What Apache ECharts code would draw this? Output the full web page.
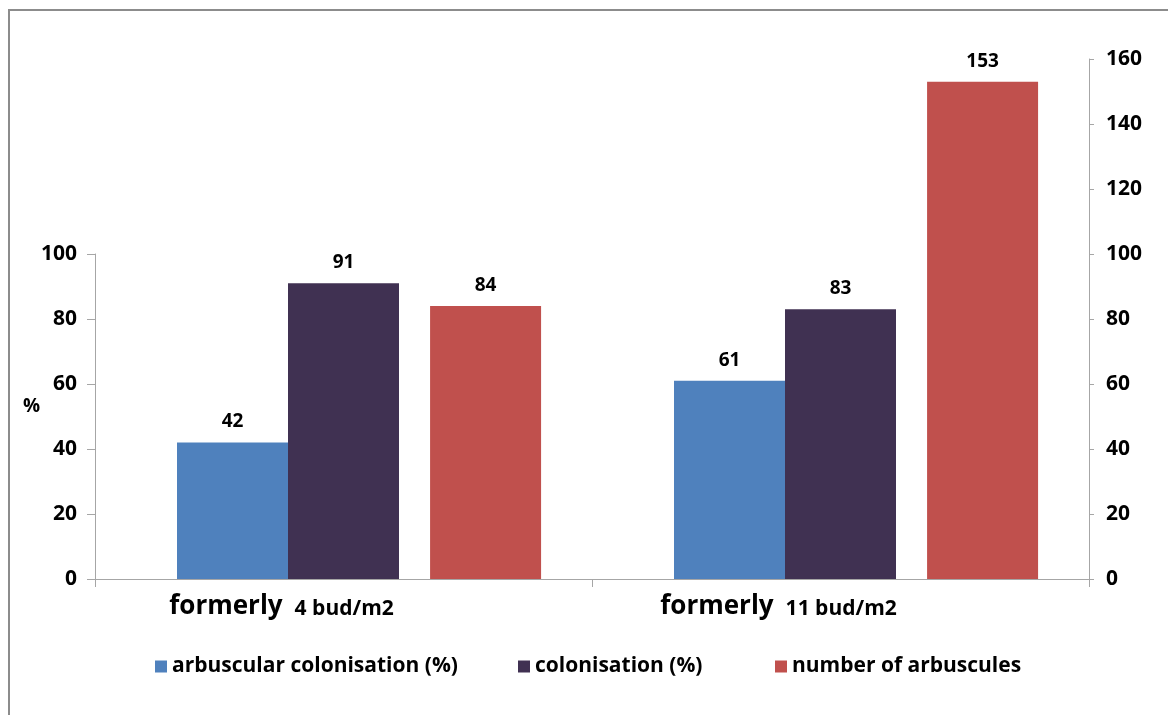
<!DOCTYPE html>
<html>
<head>
<meta charset="utf-8">
<script src="https://cdn.jsdelivr.net/npm/echarts@6/dist/echarts.min.js"></script>
<style>
html,body{margin:0;padding:0;background:#fff;}
#chart{width:1168px;height:715px;}
</style>
</head>
<body>
<div id="chart"></div>
<script>
const categories = ['formerly|4 bud/m2', 'formerly|11 bud/m2'];
const arbuscularColonisation = [42, 61];
const colonisation = [91, 83];
const numberOfArbuscules = [84, 153];
const emptySlot = [null, null];
const leftTicks = { min: 0, max: 100, interval: 20 };
const rightTicks = { min: 0, max: 160, interval: 20 };
const seriesNames = ['arbuscular colonisation (%)', 'colonisation (%)', 'number of arbuscules'];

const FONT = 'Open Sans';
const axisGray = '#a6a6a6';
const labelStyle = { fontFamily: FONT, fontWeight: 'bold', fontSize: 19, color: '#000' };

const chart = echarts.init(document.getElementById('chart'), null, { renderer: 'canvas' });

const legendCommon = {
  top: 651, itemWidth: 12, itemHeight: 12, itemGap: 0, itemTextGap: 7,
  icon: 'rect',
  textStyle: { fontFamily: FONT, fontWeight: 'bold', fontSize: 21, color: '#000' },
  selectedMode: false
};

chart.setOption({
  animation: false,
  backgroundColor: '#fff',
  graphic: [{
    type: 'polyline',
    shape: { points: [[9, 715], [9, 10], [1168, 10]] },
    style: { stroke: '#8c8c8c', lineWidth: 2, fill: null },
    silent: true
  }],
  legend: [
    Object.assign({ left: 150, data: [seriesNames[0]] }, legendCommon),
    Object.assign({ left: 513, data: [seriesNames[1]] }, legendCommon),
    Object.assign({ left: 770, data: [seriesNames[2]] }, legendCommon)
  ],
  grid: [
    { left: 95, right: 79, top: 254, bottom: 136 },
    { left: 95, right: 79, top: 59, bottom: 136 }
  ],
  xAxis: [{
    type: 'category', gridIndex: 0, data: categories,
    axisLine: { lineStyle: { color: axisGray, width: 1 } },
    axisTick: { show: true, length: 8, lineStyle: { color: axisGray } },
    axisLabel: {
      margin: 15,
      padding: [0, 124, 0, 0],
      formatter: function (v) { const p = v.split('|'); return '{a|' + p[0] + '}{b|' + p[1] + '}'; },
      rich: {
        a: { fontFamily: FONT, fontWeight: 'bold', fontSize: 26, color: '#000' },
        b: { fontFamily: FONT, fontWeight: 'bold', fontSize: 21, color: '#000', verticalAlign: 'bottom', padding: [5, 0, 0, 12] }
      }
    }
  }, {
    type: 'category', gridIndex: 1, data: categories, show: false
  }],
  yAxis: [{
    type: 'value', gridIndex: 0, position: 'left',
    min: leftTicks.min, max: leftTicks.max, interval: leftTicks.interval,
    name: '%', nameLocation: 'middle', nameRotate: 0, nameGap: 55, nameMoveOverlap: false,
    nameTextStyle: { fontFamily: FONT, fontWeight: 'bold', fontSize: 19, color: '#000', verticalAlign: 'bottom' },
    axisLine: { show: true, lineStyle: { color: axisGray } },
    axisTick: { show: true, length: 8, lineStyle: { color: axisGray } },
    axisLabel: { margin: 18, fontFamily: FONT, fontWeight: 'bold', fontSize: 21, color: '#000' },
    splitLine: { show: false }
  }, {
    type: 'value', gridIndex: 1, position: 'right',
    min: rightTicks.min, max: rightTicks.max, interval: rightTicks.interval,
    axisLine: { show: true, lineStyle: { color: axisGray } },
    axisTick: { show: true, length: 5, lineStyle: { color: axisGray } },
    axisLabel: { margin: 17, fontFamily: FONT, fontWeight: 'bold', fontSize: 21, color: '#000' },
    splitLine: { show: false }
  }],
  series: [{
    name: seriesNames[0], type: 'bar', xAxisIndex: 0, yAxisIndex: 0,
    data: arbuscularColonisation, barWidth: 111, barGap: '0%',
    itemStyle: { color: '#4f81bd' },
    label: Object.assign({ show: true, position: 'top', distance: 11 }, labelStyle)
  }, {
    name: seriesNames[1], type: 'bar', xAxisIndex: 0, yAxisIndex: 0,
    data: colonisation, barWidth: 111, barGap: '0%',
    itemStyle: { color: '#403152' },
    label: Object.assign({ show: true, position: 'top', distance: 11 }, labelStyle)
  }, {
    name: '_slot1', type: 'bar', xAxisIndex: 0, yAxisIndex: 0,
    data: emptySlot, barWidth: 111, barGap: '0%'
  }, {
    name: '_slot2', type: 'bar', xAxisIndex: 1, yAxisIndex: 1,
    data: emptySlot, barWidth: 111, barGap: '156%'
  }, {
    name: seriesNames[2], type: 'bar', xAxisIndex: 1, yAxisIndex: 1,
    data: numberOfArbuscules, barWidth: 111, barGap: '156%',
    itemStyle: { color: '#c0504d' },
    label: Object.assign({ show: true, position: 'top', distance: 11 }, labelStyle)
  }]
});
</script>
</body>
</html>
